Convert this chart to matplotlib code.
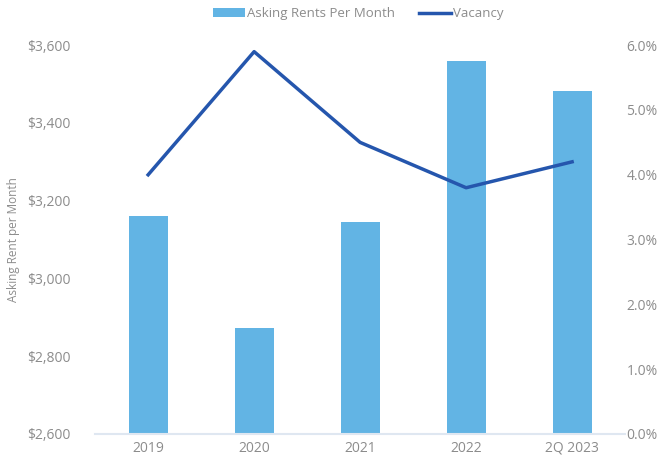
import matplotlib.pyplot as plt
from matplotlib.ticker import FuncFormatter

years = ["2019", "2020", "2021", "2022", "2Q 2023"]
asking_rent = [3160, 2872, 3145, 3560, 3482]
vacancy = [4.0, 5.9, 4.5, 3.8, 4.2]

grey = "#8c8c8c"
plt.rcParams['font.family'] = ['Open Sans', 'DejaVu Sans']

fig = plt.figure(figsize=(6.7, 4.61), dpi=100)
ax = fig.add_axes([0.142, 0.0586, 0.791, 0.8434])
x = range(len(years))
bars = ax.bar(x, asking_rent, width=0.37, color="#62b4e4", label="Asking Rents Per Month", zorder=2)
ax.set_ylim(2600, 3600)
ax.set_yticks(range(2600, 3601, 200))
ax.yaxis.set_major_formatter(FuncFormatter(lambda v, p: "${:,.0f}".format(v)))
ax.set_xlim(-0.5, 4.5)
ax.set_xticks(list(x))
ax.set_xticklabels(years)
ax.set_ylabel("Asking Rent per Month", color=grey, fontsize=8.5)
ax.yaxis.set_label_coords(-0.142, 0.5)

ax2 = ax.twinx()
line, = ax2.plot(x, vacancy, color="#2556ad", linewidth=2.5, label="Vacancy", zorder=3)
ax2.set_ylim(0, 6)
ax2.set_yticks(range(0, 7))
ax2.yaxis.set_major_formatter(FuncFormatter(lambda v, p: "{:.1f}%".format(v)))

for a in (ax, ax2):
    for s in a.spines.values():
        s.set_visible(False)
    a.tick_params(length=0, labelcolor=grey, labelsize=10)
ax.spines['bottom'].set_visible(True)
ax.spines['bottom'].set_color("#dfe7f1")
ax.spines['bottom'].set_linewidth(1.5)
ax.tick_params(axis='y', pad=18)
ax.tick_params(axis='x', pad=5)
ax2.tick_params(axis='y', pad=1)

fig.legend([bars, line], ["Asking Rents Per Month", "Vacancy"], loc="upper center",
           bbox_to_anchor=(0.535, 1.01), ncol=2, frameon=False, fontsize=9.5,
           labelcolor=grey, handlelength=2.4, handletextpad=0.2, columnspacing=1.8)

fig.savefig("out.png", dpi=100)
